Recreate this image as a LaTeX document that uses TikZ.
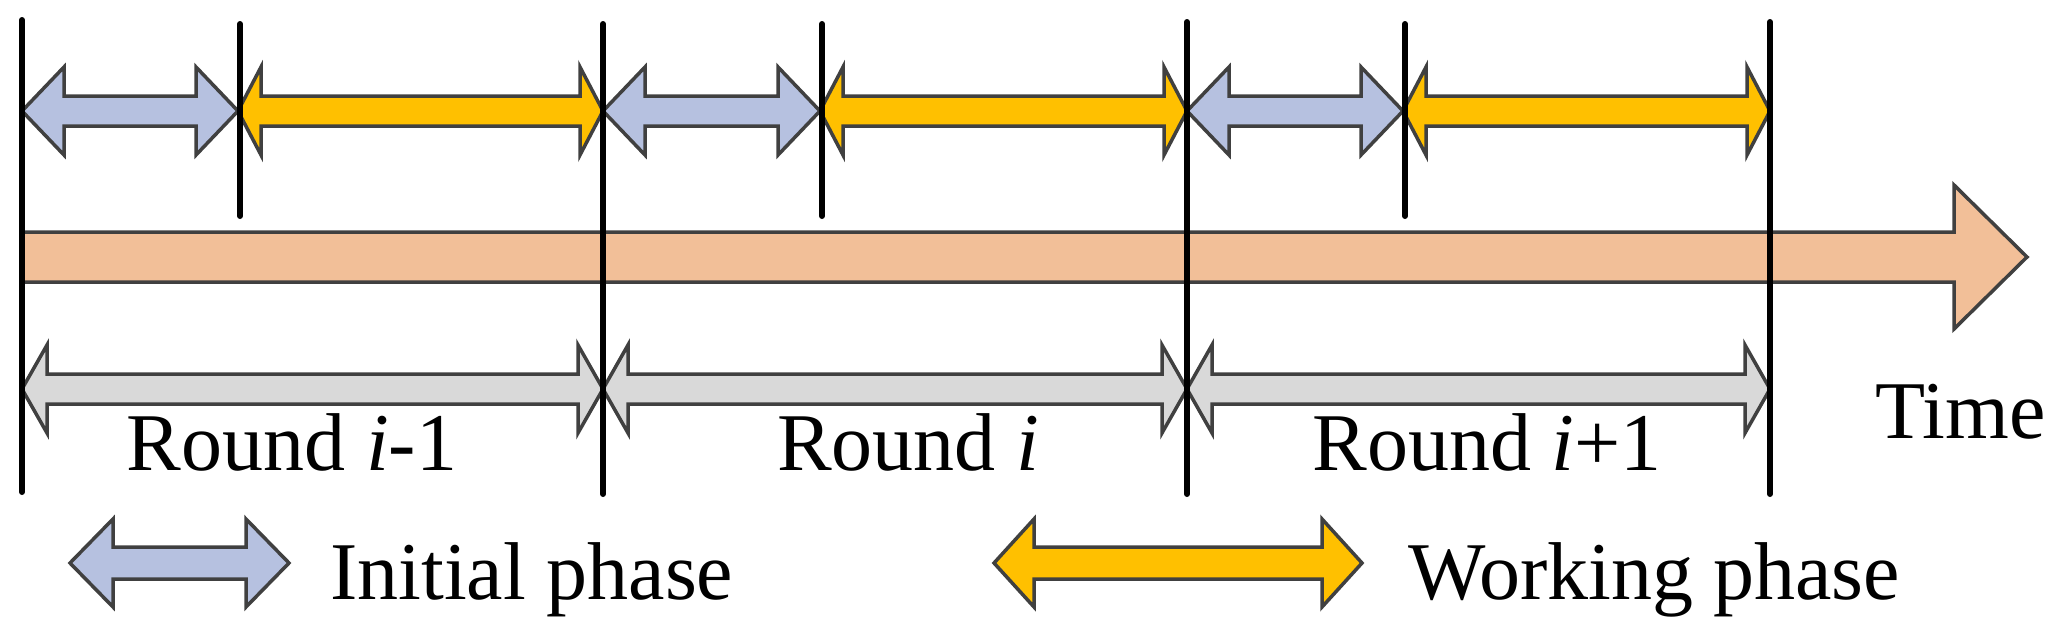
\documentclass[tikz,border=0pt]{standalone}
\usepackage{fontspec}
\setmainfont{Liberation Serif}
\definecolor{cblue}{HTML}{B6C1E0}
\definecolor{cyel}{HTML}{FFC000}
\definecolor{corg}{HTML}{F2BF98}
\definecolor{cgray}{HTML}{D9D9D9}
\definecolor{cedge}{HTML}{404040}
\tikzset{
  arr/.style={draw=cedge,line width=3.5pt,line join=miter},
  vline/.style={line width=6pt,line cap=round,black},
  lbl/.style={font=\fontsize{82}{90}\selectfont,inner sep=0pt,anchor=base},
}
% #1 x1, #2 x2, #3 y, #4 head length, #5 head half, #6 shaft half, #7 fill
\newcommand\dblarr[7]{%
  \draw[arr,fill=#7] (#1,#3) -- (#1+#4,#3-#5) -- (#1+#4,#3-#6) -- (#2-#4,#3-#6) -- (#2-#4,#3-#5)
   -- (#2,#3) -- (#2-#4,#3+#5) -- (#2-#4,#3+#6) -- (#1+#4,#3+#6) -- (#1+#4,#3+#5) -- cycle;}
\begin{document}
\begin{tikzpicture}[x=1pt,y=-1pt]
\useasboundingbox (0,0) rectangle (2063,622);
% time band
\draw[arr,fill=corg] (22,232) -- (1954,232) -- (1954,185) -- (2027,257) -- (1954,329) -- (1954,282) -- (22,282) -- cycle;
% top phase arrows
\dblarr{22}{238}{111}{42}{44}{15}{cblue}
\dblarr{238}{603}{111}{23}{44}{15}{cyel}
\dblarr{603}{820}{111}{42}{44}{15}{cblue}
\dblarr{820}{1187}{111}{23}{44}{15}{cyel}
\dblarr{1187}{1403}{111}{42}{44}{15}{cblue}
\dblarr{1403}{1770}{111}{23}{44}{15}{cyel}
% rounds
\dblarr{22}{603}{389}{25}{44}{15}{cgray}
\dblarr{603}{1187}{389}{25}{44}{15}{cgray}
\dblarr{1187}{1770}{389}{25}{44}{15}{cgray}
% vertical lines
\coordinate (a1) at (22,20); \coordinate (b1) at (22,492);
\coordinate (a2) at (240,24); \coordinate (b2) at (240,216);
\coordinate (a3) at (603,24); \coordinate (b3) at (603,494);
\coordinate (a4) at (822,24); \coordinate (b4) at (822,216);
\coordinate (a5) at (1187,22); \coordinate (b5) at (1187,494);
\coordinate (a6) at (1405,24); \coordinate (b6) at (1405,216);
\coordinate (a7) at (1770,22); \coordinate (b7) at (1770,494);
\foreach \i in {1,...,7} \draw[vline] (a\i) -- (b\i);
% labels
\node[lbl] (r1) at (292,470) {Round \textit{i}-1};
\node[lbl] (r2) at (908,470) {Round \textit{i}};
\node[lbl] (r3) at (1487,470) {Round \textit{i}+1};
\node[lbl,anchor=base west] (time) at (1875,438) {Time};
% legend
\dblarr{70}{289}{563}{43}{44}{16}{cblue}
\node[lbl,anchor=base west] (ini) at (330,599) {Initial phase};
\dblarr{994}{1362}{563}{40}{44}{16}{cyel}
\node[lbl,anchor=base west] (wrk) at (1408,599) {Working phase};
\end{tikzpicture}
\end{document}
